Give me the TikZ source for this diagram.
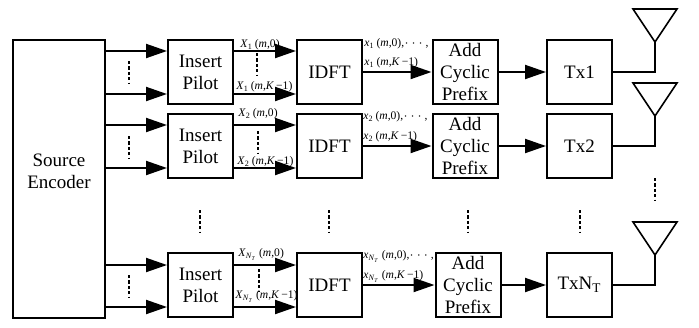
\documentclass[tikz,border=0pt]{standalone}
\usepackage{fontspec}
\setmainfont{Liberation Serif}
\usepackage{amsmath}
\usepackage{tikz}
\usetikzlibrary{arrows.meta}

% symbol labels in the text font
\newcommand{\smp}[3]{\textit{#1}\textsubscript{#2}\,(\textit{m},#3)}
\newcommand{\nt}{\textit{N}\textsubscript{\textit{T}}}
\newcommand{\kmo}{\textit{K}\,−1}

\begin{document}
\begin{tikzpicture}[x=0.5pt, y=-0.5pt, font=\fontsize{9.5}{11}\selectfont,
    blk/.style={draw, line width=1pt, align=center, inner sep=0pt,
                minimum width=32.5pt, minimum height=32pt},
    arr/.style={line width=1pt, -{Triangle[length=10.5pt, width=7pt]}},
    wire/.style={line width=1pt},
    ant/.style={line width=0.8pt},
    vdash/.style={line width=0.7pt, dash pattern=on 1.6pt off 1.1pt},
    lbl/.style={font=\fontsize{5.8}{6}\selectfont, inner sep=0pt, anchor=base west}]

    \useasboundingbox (0,0) rectangle (699,327);

    % Branch heights (pixels of the sketch)
    \coordinate (r1a) at (0,51);
    \coordinate (r1b) at (0,94);
    \coordinate (r2a) at (0,125);
    \coordinate (r2b) at (0,168);
    \coordinate (r3a) at (0,265);
    \coordinate (r3b) at (0,307);

    % Source encoder
    \node[blk, minimum width=46pt, minimum height=139pt] (src) at (59,179) {};
    \node[align=center] (srctxt) at (59,171) {Source\\Encoder};

    % Row 1
    \node[blk] (ip1)   at (200.5,72) {Insert\\Pilot};
    \node[blk] (idft1) at (329.5,72) {IDFT};
    \node[blk] (acp1)  at (465,72)   {Add\\Cyclic\\Prefix};
    \node[blk] (tx1)   at (579.5,72) {Tx1};
    \coordinate (ant1) at (655,42);

    % Row 2
    \node[blk] (ip2)   at (200.5,146) {Insert\\Pilot};
    \node[blk] (idft2) at (329.5,146) {IDFT};
    \node[blk] (acp2)  at (465,146)   {Add\\Cyclic\\Prefix};
    \node[blk] (tx2)   at (579.5,146) {Tx2};
    \coordinate (ant2) at (655,116);

    % Row 3
    \node[blk] (ip3)   at (200.5,285) {Insert\\Pilot};
    \node[blk] (idft3) at (329.5,285) {IDFT};
    \node[blk] (acp3)  at (468,285)   {Add\\Cyclic\\Prefix};
    \node[blk] (tx3)   at (579.5,285) {TxN$_\mathrm{T}$};
    \coordinate (ant3) at (655,255);

    % Source outputs and pilot outputs
    \foreach \r in {r1a,r1b,r2a,r2b,r3a,r3b} {
        \draw[arr] (src.east |- \r) -- (ip1.west |- \r);
        \draw[arr] (ip1.east |- \r) -- (idft1.west |- \r);
    }

    % IDFT -> cyclic prefix -> transmitter
    \draw[arr] (idft1.east) -- (acp1.west);
    \draw[arr] (idft2.east) -- (acp2.west);
    \draw[arr] (idft3.east) -- (acp3.west);
    \draw[arr] (acp1.east) -- (tx1.west);
    \draw[arr] (acp2.east) -- (tx2.west);
    \draw[arr] (acp3.east) -- (tx3.west);

    % Antennas
    \draw[wire] (tx1.east) -| (ant1);
    \draw[wire] (tx2.east) -| (ant2);
    \draw[wire] (tx3.east) -| (ant3);
    \draw[ant] (ant1) -- ++(-22,-33) -- ++(44,0) -- cycle;
    \draw[ant] (ant2) -- ++(-22,-33) -- ++(44,0) -- cycle;
    \draw[ant] (ant3) -- ++(-22,-33) -- ++(44,0) -- cycle;

    % Subcarrier labels
    \node[lbl] (X1a) at (240,47)  {\smp{X}{1}{0}};
    \node[lbl] (X1b) at (236,89)  {\smp{X}{1}{\kmo}};
    \node[lbl] (X2a) at (238,116) {\smp{X}{2}{0}};
    \node[lbl] (X2b) at (237,164) {\smp{X}{2}{\kmo}};
    \node[lbl] (X3a) at (238,256) {\smp{X}{\nt}{0}};
    \node[lbl] (X3b) at (235,298) {\smp{X}{\nt}{\kmo}};
    \node[lbl] (x1a) at (364,46)  {\smp{x}{1}{0},$\cdots$,};
    \node[lbl] (x1b) at (364,65)  {\smp{x}{1}{\kmo}};
    \node[lbl] (x2a) at (363,119) {\smp{x}{2}{0},$\cdots$,};
    \node[lbl] (x2b) at (363,139) {\smp{x}{2}{\kmo}};
    \node[lbl] (x3a) at (363,258) {\smp{x}{\nt}{0},$\cdots$,};
    \node[lbl] (x3b) at (363,278) {\smp{x}{\nt}{\kmo}};

    % Dots between branches
    \draw[vdash] (129,61) -- (129,83);
    \draw[vdash] (129,136) -- (129,158);
    \draw[vdash] (129,275) -- (129,297);
    \draw[vdash] (257,53) -- (257,75);
    \draw[vdash] (258,131) -- (258,153);
    \draw[vdash] (259,269) -- (259,291);

    % Dots between rows
    \draw[vdash] (200,210) -- (200,233);
    \draw[vdash] (329,210) -- (329,233);
    \draw[vdash] (468,210) -- (468,233);
    \draw[vdash] (580,210) -- (580,233);
    \draw[vdash] (655,178) -- (655,201);

\end{tikzpicture}
\end{document}
